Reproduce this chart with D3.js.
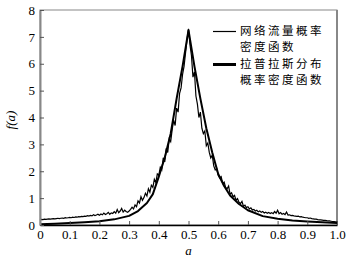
<html>
    <head>
        <script src="https://d3js.org/d3.v7.min.js"></script>
        <style>
        body { margin: 0; background: #fff; }
        .axis text { font-family: "Liberation Serif", serif; font-size: 13px; fill: #000; }
        .axis .tick line { stroke: #555; }
        </style>
    </head>
    <body>
        <svg id="chart" width="353" height="259"></svg>
        <script>
            // x ticks and y ticks
            const xTicks = [0, 0.1, 0.2, 0.3, 0.4, 0.5, 0.6, 0.7, 0.8, 0.9, 1.0];
            const yTicks = [0, 1, 2, 3, 4, 5, 6, 7, 8];

            // laplace pdf
            const lapA = [0, 0.05, 0.1, 0.15, 0.2, 0.25, 0.3, 0.33, 0.36, 0.38, 0.4, 0.42, 0.44, 0.46, 0.48, 0.5,
                          0.52, 0.54, 0.56, 0.58, 0.6, 0.62, 0.64, 0.67, 0.7, 0.75, 0.8, 0.85, 0.9, 0.95, 1.0];
            const lapV = [0.03, 0.05, 0.07, 0.10, 0.14, 0.21, 0.34, 0.52, 0.82, 1.15, 1.8, 2.5, 3.4, 4.7, 5.9, 7.25,
                          5.9, 4.7, 3.6, 2.7, 1.9, 1.45, 1.1, 0.78, 0.55, 0.33, 0.23, 0.17, 0.13, 0.10, 0.07];

            // network traffic pdf (noisy), one value every 0.005
            const netV = [
                0.20,0.21,0.20,0.22,0.21,0.22,0.23,0.22,0.23,0.24,
                0.23,0.24,0.25,0.24,0.25,0.26,0.25,0.27,0.26,0.27,
                0.28,0.27,0.29,0.28,0.30,0.29,0.31,0.30,0.32,0.31,
                0.33,0.32,0.35,0.33,0.36,0.34,0.38,0.35,0.37,0.40,
                0.36,0.41,0.38,0.44,0.39,0.42,0.47,0.40,0.45,0.43,
                0.50,0.44,0.58,0.46,0.52,0.62,0.48,0.55,0.50,0.47,
                0.52,0.58,0.66,0.60,0.75,0.68,0.90,0.82,1.05,0.92,
                1.02,1.18,1.08,1.35,1.22,1.48,1.40,1.70,1.58,1.90,
                1.85,2.15,2.05,2.50,2.35,2.85,2.70,3.20,3.10,3.55,
                3.90,3.70,4.35,4.20,4.90,5.10,5.60,5.90,6.40,6.90,
                7.30,6.70,6.30,5.50,5.70,4.80,4.50,4.00,4.20,3.60,
                3.40,3.50,2.95,3.05,2.70,2.50,2.60,2.20,2.05,2.10,
                1.85,1.75,1.80,1.55,1.60,1.40,1.35,1.45,1.15,1.20,
                1.05,1.10,0.92,0.98,0.85,0.80,0.88,0.70,0.74,0.65,
                0.68,0.60,0.64,0.56,0.58,0.52,0.55,0.49,0.52,0.47,
                0.50,0.45,0.48,0.44,0.47,0.43,0.46,0.42,0.50,0.44,
                0.55,0.42,0.46,0.40,0.43,0.39,0.48,0.37,0.38,0.35,
                0.36,0.34,0.33,0.32,0.33,0.30,0.31,0.29,0.28,0.27,
                0.27,0.25,0.26,0.24,0.23,0.22,0.22,0.20,0.19,0.19,
                0.18,0.17,0.17,0.16,0.15,0.15,0.14,0.13,0.13,0.12,
                0.11
            ];
            const netA = netV.map((v, i) => i * 0.005);

            const legendLabels = [["网络流量概率", "密度函数"], ["拉普拉斯分布", "概率密度函数"]];

            const svg = d3.select('svg#chart');
            const margins = {top: 10, right: 16, bottom: 34, left: 40};
            const chartWidth = 353 - margins.left - margins.right;
            const chartHeight = 259 - margins.top - margins.bottom;

            const xScale = d3.scaleLinear().domain([0, 1]).range([0, chartWidth]);
            const yScale = d3.scaleLinear().domain([0, 8]).range([chartHeight, 0]);

            const chartArea = svg.append('g')
                .attr('transform', `translate(${margins.left},${margins.top})`);

            // frame
            chartArea.append('rect')
                .attr('width', chartWidth).attr('height', chartHeight)
                .attr('fill', 'none').attr('stroke', '#888').attr('stroke-width', 1);
            chartArea.append('line')
                .attr('x1', chartWidth).attr('x2', chartWidth)
                .attr('y1', 0).attr('y2', chartHeight)
                .attr('stroke', '#888').attr('stroke-width', 2);

            const line = d3.line().x(d => xScale(d[0])).y(d => yScale(d[1]));

            chartArea.append('path')
                .datum(lapA.map((a, i) => [a, lapV[i]]))
                .attr('d', line)
                .attr('fill', 'none').attr('stroke', '#000').attr('stroke-width', 2)
                .attr('stroke-linejoin', 'round');

            chartArea.append('path')
                .datum(netA.map((a, i) => [a, netV[i]]))
                .attr('d', line)
                .attr('fill', 'none').attr('stroke', '#000').attr('stroke-width', 1.2);

            let bottomAxis = d3.axisBottom(xScale).tickValues(xTicks)
                .tickSizeInner(-4).tickSizeOuter(0).tickPadding(5)
                .tickFormat(d => d === 0 ? '0' : d3.format('.1f')(d));
            chartArea.append('g')
                .attr('class', 'x axis')
                .attr('transform', `translate(0,${chartHeight})`)
                .call(bottomAxis)
                .call(g => g.select('.domain').attr('stroke', '#000').attr('stroke-width', 1.5));

            let leftAxis = d3.axisLeft(yScale).tickValues(yTicks)
                .tickSizeInner(-4).tickSizeOuter(0).tickPadding(5);
            chartArea.append('g')
                .attr('class', 'y axis')
                .call(leftAxis)
                .call(g => g.select('.domain').attr('stroke', '#888').attr('stroke-width', 2));

            // axis titles
            svg.append('text')
                .attr('transform', 'translate(15,120) rotate(-90)')
                .attr('text-anchor', 'middle')
                .style('font-family', '"Liberation Serif", serif')
                .style('font-size', '13px').style('font-style', 'italic')
                .text('f(a)');

            svg.append('text')
                .attr('x', margins.left + xScale(0.5)).attr('y', 255)
                .attr('text-anchor', 'middle')
                .style('font-family', '"Liberation Serif", serif')
                .style('font-size', '13px').style('font-style', 'italic')
                .text('a');

            // legend
            const legend = svg.append('g');
            const legendWidths = [1.2, 3];
            legendLabels.forEach((rows, i) => {
                let y0 = 31.5 + i * 33;
                legend.append('line')
                    .attr('x1', 213).attr('x2', 236).attr('y1', y0).attr('y2', y0)
                    .attr('stroke', '#000').attr('stroke-width', legendWidths[i]);
                rows.forEach((r, j) => {
                    legend.append('text')
                        .attr('x', 240).attr('y', y0 + j * 16.7)
                        .attr('dominant-baseline', 'middle')
                        .style('font-family', '"Noto Sans CJK SC", sans-serif')
                        .style('font-size', '11.5px')
                        .style('letter-spacing', '2.5px')
                        .text(r);
                });
            });
        </script>
    </body>
</html>
